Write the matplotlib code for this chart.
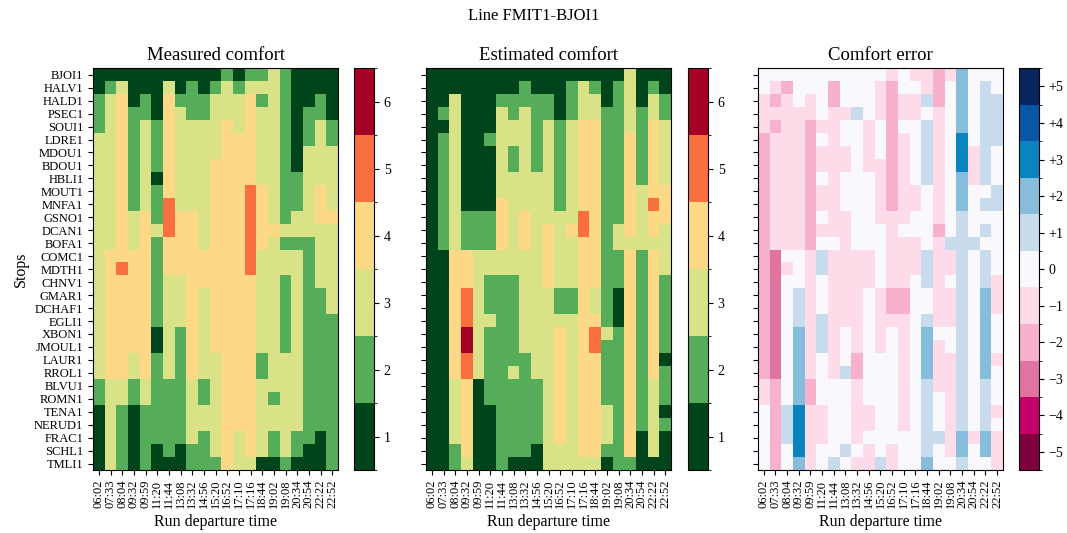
import numpy as np
import matplotlib
matplotlib.use("Agg")
import matplotlib.pyplot as plt
from matplotlib.colors import ListedColormap, BoundaryNorm

plt.rcParams['font.family'] = ['Liberation Serif', 'DejaVu Serif']

# Data
stops = ['BJOI1', 'HALV1', 'HALD1', 'PSEC1', 'SOUI1', 'LDRE1', 'MDOU1', 'BDOU1',
         'HBLI1', 'MOUT1', 'MNFA1', 'GSNO1', 'DCAN1', 'BOFA1', 'COMC1', 'MDTH1',
         'CHNV1', 'GMAR1', 'DCHAF1', 'EGLI1', 'XBON1', 'JMOUL1', 'LAUR1', 'RROL1',
         'BLVU1', 'ROMN1', 'TENA1', 'NERUD1', 'FRAC1', 'SCHL1', 'TMLI1']
departures = ['06:02', '07:33', '08:04', '09:32', '09:59', '11:20', '11:44',
              '13:08', '13:32', '14:56', '15:20', '16:52', '17:10', '17:16',
              '18:44', '19:02', '19:08', '20:34', '20:54', '22:22', '22:52']

measured = [
    [1,1,1,1,1,1,1,1,1,1,1,2,1,2,2,3,2,1,1,1,1],
    [1,2,3,1,1,1,3,1,2,1,2,3,2,3,3,3,2,1,1,1,1],
    [2,3,4,1,2,1,4,2,2,2,3,3,3,4,2,3,2,1,1,2,1],
    [2,3,4,2,2,1,4,3,2,2,3,3,3,4,3,3,2,1,2,2,1],
    [2,3,4,2,3,2,4,3,3,3,3,4,3,4,3,3,2,1,2,3,2],
    [3,3,4,2,3,2,4,3,3,3,3,4,4,4,3,3,2,1,2,3,2],
    [3,3,4,2,3,2,4,3,3,3,3,4,4,4,3,3,2,1,3,3,3],
    [3,3,4,2,3,2,4,3,3,3,4,4,4,4,3,3,2,1,3,3,3],
    [3,3,4,2,3,1,4,3,3,3,4,4,4,4,3,3,2,2,3,3,3],
    [3,3,4,2,3,2,4,3,3,3,4,4,4,5,4,3,2,2,3,4,3],
    [3,3,4,2,3,2,5,3,3,3,4,4,4,5,4,3,2,2,3,4,3],
    [3,3,4,3,4,2,5,4,4,3,4,4,4,5,4,3,2,3,3,4,4],
    [3,3,4,3,4,3,5,4,4,3,4,4,4,5,4,4,3,3,3,3,3],
    [3,3,4,3,4,2,4,4,4,3,4,4,4,5,4,3,2,2,2,3,3],
    [3,4,4,4,4,2,4,4,4,4,4,4,4,5,3,3,3,3,2,3,3],
    [3,4,5,4,4,2,4,4,4,4,4,4,4,5,3,3,3,3,2,3,3],
    [3,4,4,4,4,2,3,3,4,4,4,4,4,4,3,3,2,3,2,3,3],
    [3,4,4,4,4,2,3,3,4,3,4,4,4,4,3,3,2,3,2,2,3],
    [3,4,4,4,4,2,3,3,4,3,4,4,4,4,3,3,2,3,2,2,3],
    [3,4,4,4,4,2,3,3,4,3,4,4,4,4,3,3,2,3,2,2,2],
    [3,4,4,4,4,1,3,2,4,3,4,4,4,4,3,3,2,3,2,2,2],
    [3,4,4,4,4,1,3,2,4,3,4,4,4,4,3,3,2,3,2,2,2],
    [3,4,4,3,4,2,3,2,4,3,3,4,4,4,2,3,3,3,2,2,2],
    [3,4,4,3,4,2,3,2,4,3,3,4,4,4,2,3,3,3,2,2,2],
    [2,3,3,2,3,2,2,2,3,2,3,4,4,4,3,3,3,3,2,2,2],
    [2,3,3,2,3,2,2,2,3,2,3,4,4,4,3,2,3,3,2,2,2],
    [1,3,2,1,2,2,2,2,3,3,3,4,4,4,3,3,3,3,2,2,2],
    [1,3,2,1,2,2,2,2,3,3,3,4,4,4,3,3,3,3,2,2,2],
    [1,3,2,1,2,2,2,2,3,2,3,4,3,4,3,2,3,2,2,1,2],
    [1,3,2,1,2,1,2,1,2,2,3,4,3,4,3,2,3,2,1,1,2],
    [1,3,2,1,2,1,1,1,2,2,2,4,3,3,1,1,2,1,1,1,2],
]

estimated = [
    [1,1,1,1,1,1,1,1,1,1,1,1,1,1,1,1,1,3,1,1,1],
    [1,1,1,1,1,1,1,1,2,1,1,1,2,3,2,1,2,3,1,2,1],
    [1,1,3,1,1,1,2,2,2,2,2,1,2,3,3,1,2,3,1,3,2],
    [1,2,3,1,1,1,3,2,3,2,2,1,2,3,3,2,2,3,2,3,2],
    [1,1,3,1,1,1,3,3,3,2,3,2,3,4,4,2,2,3,2,4,3],
    [1,2,3,1,1,2,3,3,3,2,3,2,3,4,4,2,2,4,2,4,3],
    [1,2,3,1,1,1,3,2,3,2,3,2,3,4,4,2,2,4,2,4,3],
    [1,2,3,1,1,1,3,2,3,2,3,2,3,4,4,2,2,4,2,4,3],
    [1,2,3,1,1,1,3,3,3,3,3,2,3,4,4,2,2,4,2,4,3],
    [1,2,3,1,1,1,3,3,3,3,3,2,3,4,4,2,2,4,3,4,4],
    [1,2,3,1,1,1,4,3,3,3,3,2,3,4,4,2,2,4,3,5,4],
    [1,2,3,2,2,2,4,3,4,3,3,3,3,5,4,2,2,4,3,4,4],
    [1,2,3,2,2,2,4,3,4,3,4,3,4,5,4,2,3,4,3,4,3],
    [1,2,3,2,2,2,4,3,4,3,4,3,3,4,4,2,3,3,3,3,3],
    [1,1,4,4,3,3,3,3,3,3,4,3,3,4,4,2,2,4,2,4,3],
    [1,1,4,4,3,3,3,3,3,3,4,3,3,4,4,2,2,4,2,4,3],
    [1,1,4,4,3,2,2,2,3,3,4,3,3,4,4,2,2,4,2,4,2],
    [1,1,4,5,3,2,2,2,3,3,3,2,2,4,3,2,1,4,2,4,2],
    [1,1,4,5,3,2,2,2,3,3,3,2,2,4,3,2,1,4,2,4,2],
    [1,1,4,5,3,3,2,2,3,3,3,3,3,4,4,2,1,4,2,4,2],
    [1,1,4,6,3,2,2,2,3,3,3,4,3,4,5,3,2,4,2,4,2],
    [1,1,4,6,3,2,2,2,3,3,3,4,3,4,5,2,2,4,2,4,2],
    [1,1,4,5,3,2,2,2,2,3,3,4,3,4,4,2,2,4,2,4,1],
    [1,1,4,5,3,2,2,3,2,3,3,4,3,4,4,2,2,4,2,4,2],
    [1,1,3,4,1,2,2,2,2,2,3,4,3,4,4,2,2,4,2,3,2],
    [1,1,3,4,1,2,2,2,2,2,3,4,3,4,4,2,2,4,2,3,2],
    [1,1,3,4,1,1,2,2,2,2,3,4,3,4,4,3,2,4,2,3,1],
    [1,1,3,4,1,1,2,2,2,2,3,4,3,4,4,3,2,4,2,3,2],
    [1,1,3,4,1,1,2,2,2,2,3,4,3,4,4,3,2,4,1,3,1],
    [1,1,2,4,1,1,2,2,2,1,3,3,3,4,4,2,2,4,1,3,1],
    [1,1,2,3,1,1,2,1,1,1,3,3,3,3,3,1,2,2,1,1,1],
]

measured = np.array(measured)
estimated = np.array(estimated)
error = estimated - measured

comfort_colors = ['#00441b', '#55ad5a', '#d9e286', '#fdd886', '#fa6f40', '#a50026']
error_colors = ['#7d003f', '#c6006b', '#e0739f', '#f8b1cc', '#fddbe8', '#f9f9fd',
                '#c8dcee', '#86bddc', '#0a84bf', '#0757a6', '#07255c']

comfort_cmap = ListedColormap(comfort_colors)
comfort_norm = BoundaryNorm(np.arange(0.5, 7.0, 1.0), comfort_cmap.N)
error_cmap = ListedColormap(error_colors)
error_norm = BoundaryNorm(np.arange(-5.5, 6.0, 1.0), error_cmap.N)

fig = plt.figure(figsize=(10.67, 5.33), dpi=100)
fig.suptitle('Line FMIT1-BJOI1', fontsize=12, y=0.985)

panels = [
    ('Measured comfort', measured, comfort_cmap, comfort_norm, range(1, 7), [str(v) for v in range(1, 7)]),
    ('Estimated comfort', estimated, comfort_cmap, comfort_norm, range(1, 7), [str(v) for v in range(1, 7)]),
    ('Comfort error', error, error_cmap, error_norm, range(-5, 6),
     ['\u2212%d' % -v if v < 0 else ('+%d' % v if v > 0 else '0') for v in range(-5, 6)]),
]

ax_lefts = [0.0872, 0.3993, 0.7104]
cb_lefts = [0.3318, 0.6448, 0.9550]
bottom, height = 0.118, 0.754

for i, (title, data, cmap, norm, cticks, clabels) in enumerate(panels):
    ax = fig.add_axes([ax_lefts[i], bottom, 0.2296, height])
    im = ax.imshow(data, cmap=cmap, norm=norm, aspect='auto', interpolation='nearest')
    ax.set_title(title, fontsize=13.5)
    ax.set_xticks(range(len(departures)))
    ax.set_xticklabels(departures, rotation=90, fontsize=9)
    ax.set_yticks(range(len(stops)))
    if i == 0:
        ax.set_yticklabels(stops, fontsize=9)
        ax.set_ylabel('Stops', fontsize=11.5)
    else:
        ax.set_yticklabels([])
    ax.set_xlabel('Run departure time', fontsize=11.5)

    cax = fig.add_axes([cb_lefts[i], bottom, 0.0187, height])
    cb = fig.colorbar(im, cax=cax, ticks=list(cticks))
    cb.ax.set_yticklabels(clabels, fontsize=10)

fig.savefig('out.png', dpi=100)
